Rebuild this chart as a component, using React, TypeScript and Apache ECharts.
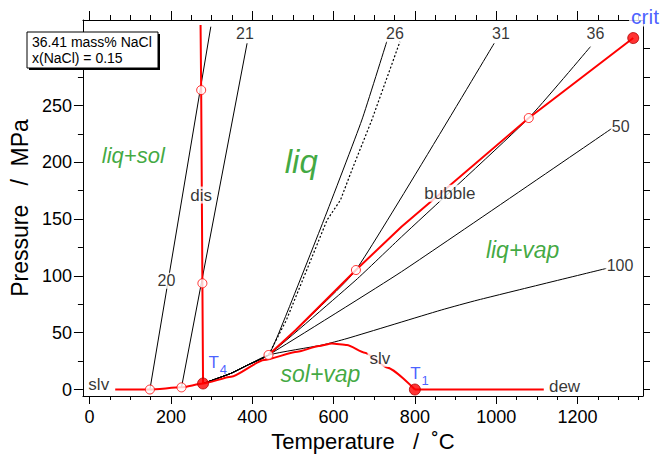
import React, { useEffect, useRef } from "react";
import * as echarts from "echarts";

// ---------- axis ranges & ticks ----------
const X_MIN = -16.4;
const X_MAX = 1361;
const Y_MIN = -5.7;
const Y_MAX = 325.3;

const xTickLabels = [0, 200, 400, 600, 800, 1000, 1200];
const xMinorTicks: number[] = [];
for (let v = 50; v <= 1350; v += 50) if (v % 200 !== 0) xMinorTicks.push(v);
const yMajorTicks = [0, 50, 100, 150, 200, 250, 300];
const yTickLabels = [0, 50, 100, 150, 200, 250]; // 300 is hidden behind the note box
const yMinorTicks = [25, 75, 125, 175, 225, 275];
const yRightTicks = [0, 25, 50, 75, 100, 125, 150, 175, 200, 225, 250, 275, 300];

// ---------- phase boundaries (T in °C, P in MPa) ----------
const slvCurve: [number, number][] = [
  [63, 0], [148, 0], [226, 1.9], [279, 5.3], [348, 11.3], [429, 26], [511, 33.3],
  [564, 38.3], [596, 40.5], [633, 39.2], [677, 32.4], [733, 19.2], [800, 0],
];
const dewCurve: [number, number][] = [[800, 0], [1117, 0]];
const disCurve: [number, number][] = [[279, 5.3], [277.4, 93.5], [274.4, 263.6], [272.9, 320.8]];
const bubbleCurve: [number, number][] = [
  [440, 30.4], [507, 52.4], [655, 105.2], [767, 143.3], [1080, 239], [1138, 254.9], [1337, 309.4],
];

// ---------- isochores ----------
const bundle: [number, number][] = [[279, 5.3], [348, 14.3], [389, 21.6], [440, 30.4]];
const iso20: [number, number][] = [[148.3, 0], [298.1, 319.4]];
const iso21: [number, number][] = [[226, 1.9], [387.3, 304.8]];
const iso26: [number, number][] = [...bundle, [478.3, 61.2], [576, 149.2], [669.6, 237.3], [730.7, 306.2]];
const iso26b: [number, number][] = [[440, 30.4], [484, 61.2], [584, 149.2], [617, 166.8], [645, 193.2], [694, 237.2], [763.2, 306.2]];
const iso31: [number, number][] = [...bundle, [507, 52.4], [655, 105.2], [995, 304.8]];
const iso36: [number, number][] = [...bundle, [655, 96.4], [767.3, 134.5], [1080, 239], [1231.7, 301.8]];
const iso50: [number, number][] = [...bundle, [767, 103.7], [1285, 230]];
const iso100: [number, number][] = [...bundle, [572, 39.2], [633, 44.9], [865, 70], [955, 78.8], [1272, 106.7]];

// ---------- points ----------
const openPoints: [number, number][] = [
  [148.3, 0], [226, 1.9], [440, 30.4], [655, 105.2], [1080, 239], [277.4, 93.5], [274.4, 263.6],
];
const pointT4: [number, number] = [279, 5.3];
const pointT1: [number, number] = [800, 0];
const pointCrit: [number, number] = [1337, 309.4];

// ---------- annotations ----------
const isoLabels: [string, number, number][] = [
  ["20", 189, 95.8], ["21", 382, 313.5], ["26", 751, 313.5], ["31", 1011.7, 313.5],
  ["36", 1244, 313.5], ["50", 1306, 231.3], ["100", 1304.5, 109.6],
];
const curveLabels: [string, number, number][] = [
  ["dis", 274.4, 171.2], ["bubble", 886, 172.7], ["slv", 714, 27.5], ["slv", 22.5, 4], ["dew", 1168, 3.1],
];
const regionLabels: [string, number, number, number][] = [
  ["liq+sol", 107.5, 206.4, 22], ["liq", 520.5, 201, 33], ["liq+vap", 1065, 122.8, 23], ["sol+vap", 567.7, 13.6, 23],
];
const pointLabels: [string, string, number, number][] = [
  ["T", "4", 315, 24.2], ["T", "1", 811.4, 14.5],
];
const critLabel: [string, number, number] = ["crit", 1366, 328.8];
const boxLines = ["36.41 mass% NaCl", "x(NaCl) = 0.15"];

const FONT = "'Liberation Sans', Arial, Helvetica, sans-serif";
const RED = "#ff0000";
const GREEN = "#0f930f";
const BLUE = "#1a38ff";

function xAxisDef(position: string, ticks: number[], len: number, opts: any = {}) {
  return {
    type: "value", position, min: X_MIN, max: X_MAX,
    splitLine: { show: false },
    axisLine: { show: opts.line ?? false, onZero: false, lineStyle: { color: "#000", width: 1 } },
    axisTick: { show: true, customValues: ticks, length: len, inside: false, lineStyle: { color: "#000", width: 1 } },
    axisLabel: opts.labels
      ? { show: true, customValues: opts.labels, margin: 12, color: "#000", fontSize: 18, fontFamily: FONT, formatter: (v: number) => String(v) }
      : { show: false },
    ...(opts.extra || {}),
  };
}
function yAxisDef(position: string, ticks: number[], len: number, opts: any = {}) {
  return {
    type: "value", position, min: Y_MIN, max: Y_MAX,
    splitLine: { show: false },
    axisLine: { show: opts.line ?? false, onZero: false, lineStyle: { color: "#000", width: 1 } },
    axisTick: { show: true, customValues: ticks, length: len, inside: false, lineStyle: { color: "#000", width: 1 } },
    axisLabel: opts.labels
      ? { show: true, customValues: opts.labels, margin: 11, color: "#000", fontSize: 18, fontFamily: FONT, formatter: (v: number) => String(v) }
      : { show: false },
    ...(opts.extra || {}),
  };
}

function blackLine(data: [number, number][], extra: any = {}) {
  return {
    type: "line", data, symbol: "none", showSymbol: false, silent: true, z: 2,
    lineStyle: { color: "#000", width: 1, ...(extra.lineStyle || {}) },
    smooth: extra.smooth ?? false,
  };
}
function redLine(data: [number, number][], smooth: any = false) {
  return {
    type: "line", data, symbol: "none", showSymbol: false, silent: true, z: 3,
    smooth, smoothMonotone: "x",
    lineStyle: { color: RED, width: 2 },
  };
}

export default function App() {
  const ref = useRef<HTMLDivElement>(null);
  useEffect(() => {
    if (!ref.current) return;
    const chart = echarts.init(ref.current, undefined, { renderer: "svg" });

    const annData: any[] = [];
    isoLabels.forEach(([t, x, y]) =>
      annData.push({
        value: [x, y],
        label: { formatter: t, fontSize: 16, color: "#000", backgroundColor: "#fff", padding: [0, 1] },
      })
    );
    curveLabels.forEach(([t, x, y]) =>
      annData.push({
        value: [x, y],
        label: { formatter: t, fontSize: 17, color: "#000", backgroundColor: "#fff", padding: [0, 2] },
      })
    );
    regionLabels.forEach(([t, x, y, fs]) =>
      annData.push({
        value: [x, y],
        label: { formatter: t, fontSize: fs, fontStyle: "italic", color: GREEN },
      })
    );
    pointLabels.forEach(([a, b, x, y]) =>
      annData.push({
        value: [x, y],
        label: {
          formatter: `{t|${a}}{s|${b}}`,
          rich: {
            t: { fontSize: 17, lineHeight: 17, color: BLUE, verticalAlign: "top", fontFamily: FONT },
            s: { fontSize: 13, lineHeight: 13, color: BLUE, verticalAlign: "top", padding: [9, 0, 0, 1], fontFamily: FONT },
          },
        },
      })
    );
    annData.push({
      value: [critLabel[1], critLabel[2]],
      label: { formatter: critLabel[0], fontSize: 21, color: BLUE, backgroundColor: "#fff", padding: [0, 2] },
    });

    const option: any = {
      animation: false,
      backgroundColor: "#fff",
      textStyle: { fontFamily: FONT },
      grid: { left: 79, right: 19, top: 20, bottom: 62, containLabel: false },
      xAxis: [
        xAxisDef("bottom", xTickLabels, 8, {
          line: true, labels: xTickLabels,
          extra: {
            name: "Temperature   /  ˚C", nameLocation: "middle", nameGap: 33,
            nameTextStyle: { fontSize: 22, color: "#000", fontFamily: FONT },
          },
        }),
        xAxisDef("bottom", xMinorTicks, 4),
        xAxisDef("top", xTickLabels, 9, { line: true }),
        xAxisDef("top", xMinorTicks, 5),
      ],
      yAxis: [
        yAxisDef("left", yMajorTicks, 9, {
          line: true, labels: yTickLabels,
          extra: {
            name: "Pressure   /  MPa", nameLocation: "middle", nameGap: 49,
            nameTextStyle: { fontSize: 23, color: "#000", fontFamily: FONT },
          },
        }),
        yAxisDef("left", yMinorTicks, 5),
        yAxisDef("right", yRightTicks, 7, { line: true }),
      ],
      series: [
        blackLine(iso20),
        blackLine(iso21),
        blackLine(iso26, { smooth: 0.15 }),
        blackLine(iso26b, { lineStyle: { type: [2, 2], width: 1.2 } }),
        blackLine(iso31, { smooth: 0.15 }),
        blackLine(iso36, { smooth: 0.15 }),
        blackLine(iso50, { smooth: 0.15 }),
        blackLine(iso100, { smooth: 0.2 }),
        redLine(slvCurve, 0.2),
        redLine(dewCurve),
        redLine(disCurve),
        redLine(bubbleCurve),
        {
          type: "scatter", data: openPoints, symbol: "circle", symbolSize: 9, z: 5, silent: true,
          itemStyle: { color: "#fff", borderColor: RED, borderWidth: 1 },
        },
        {
          type: "scatter", data: [pointT4, pointT1], symbol: "circle", symbolSize: 11, z: 5, silent: true,
          itemStyle: { color: RED, borderColor: "#b00000", borderWidth: 1 },
        },
        {
          type: "scatter", data: [pointCrit], symbol: "circle", symbolSize: 11, z: 5, silent: true,
          itemStyle: { color: RED, borderColor: "#b00000", borderWidth: 1 },
        },
        {
          type: "scatter", data: annData, symbolSize: 0, z: 6, silent: true, clip: false,
          label: { show: true, position: "inside", fontFamily: FONT },
        },
      ],
      graphic: [
        { type: "rect", z: 100, zlevel: 1, shape: { x: 29, y: 34, width: 131, height: 36 }, style: { fill: "#000" } },
        { type: "rect", z: 101, zlevel: 1, shape: { x: 27, y: 32, width: 131, height: 36 }, style: { fill: "#fff", stroke: "#000", lineWidth: 1 } },
        { type: "text", z: 102, zlevel: 1, x: 32, y: 35, style: { text: boxLines[0], fill: "#000", font: `14px ${FONT}` } },
        { type: "text", z: 102, zlevel: 1, x: 32, y: 51, style: { text: boxLines[1], fill: "#000", font: `14px ${FONT}` } },
      ],
    };
    chart.setOption(option);
    return () => chart.dispose();
  }, []);
  return (
    <div
      ref={ref}
      style={{ position: "fixed", left: 0, top: 0, width: 662, height: 458, background: "#fff" }}
    />
  );
}
